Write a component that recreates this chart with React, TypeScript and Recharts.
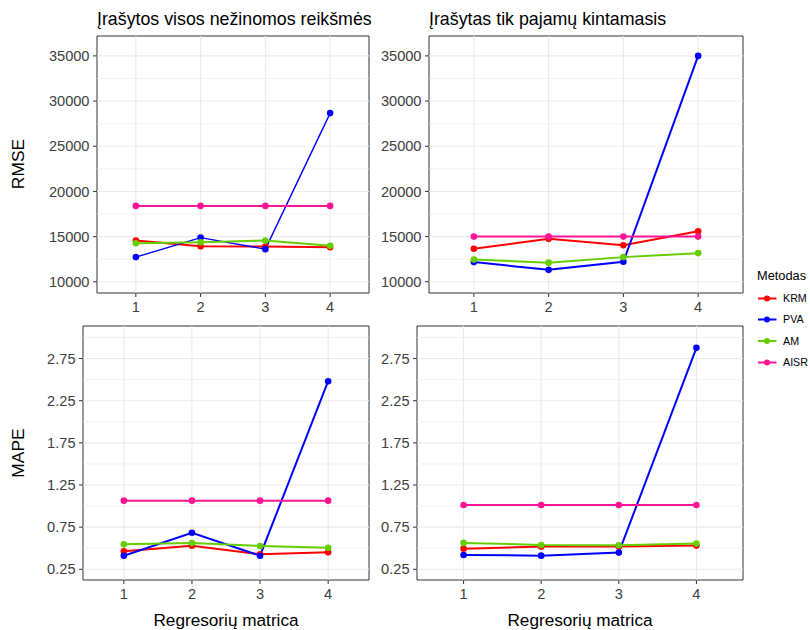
import React from 'react';
import { LineChart, Line, XAxis, YAxis, ReferenceLine, ReferenceArea } from 'recharts';

// ---------- data ----------
const categories = [1, 2, 3, 4];
const seriesNames = ['KRM', 'PVA', 'AM', 'AISR'];
const seriesColors = ['#FF0000', '#0000FF', '#66CD00', '#FF1493'];

// RMSE – "Įrašytos visos nežinomos reikšmės"
const rmseVisosKRM = [14560, 13940, 13900, 13830];
const rmseVisosPVA = [12730, 14890, 13610, 28670];
const rmseVisosAM = [14270, 14380, 14560, 13980];
const rmseVisosAISR = [18400, 18400, 18400, 18400];

// RMSE – "Įrašytas tik pajamų kintamasis"
const rmsePajKRM = [13650, 14750, 14050, 15600];
const rmsePajPVA = [12180, 11320, 12210, 35000];
const rmsePajAM = [12470, 12120, 12730, 13170];
const rmsePajAISR = [15000, 15000, 15000, 15000];

// MAPE – "Įrašytos visos nežinomos reikšmės"
const mapeVisosKRM = [0.463, 0.53, 0.428, 0.451];
const mapeVisosPVA = [0.411, 0.684, 0.411, 2.481];
const mapeVisosAM = [0.546, 0.562, 0.526, 0.506];
const mapeVisosAISR = [1.064, 1.064, 1.064, 1.064];

// MAPE – "Įrašytas tik pajamų kintamasis"
const mapePajKRM = [0.495, 0.519, 0.519, 0.531];
const mapePajPVA = [0.42, 0.412, 0.448, 2.877];
const mapePajAM = [0.563, 0.539, 0.536, 0.555];
const mapePajAISR = [1.012, 1.012, 1.012, 1.012];

const rmseTicks = [10000, 15000, 20000, 25000, 30000, 35000];
const rmseMinor = [12500, 17500, 22500, 27500, 32500];
const mapeTicks = [0.25, 0.75, 1.25, 1.75, 2.25, 2.75];
const mapeMinor = [0.5, 1.0, 1.5, 2.0, 2.5, 3.0];
const rmseDomain: [number, number] = [8760, 37200];
const mapeDomain: [number, number] = [0.123, 3.136];

const titleLeft = 'Įrašytos visos nežinomos reikšmės';
const titleRight = 'Įrašytas tik pajamų kintamasis';
const yTitleTop = 'RMSE';
const yTitleBottom = 'MAPE';
const xTitle = 'Regresorių matrica';
const legendTitle = 'Metodas';

const FONT = '"Liberation Sans", Arial, Helvetica, sans-serif';

type Box = { x: number; y: number; w: number; h: number };

function Panel(props: {
  box: Box;
  series: number[][];
  domain: [number, number];
  ticks: number[];
  minor: number[];
  fmt: (v: number) => string;
  pvaWidth?: number;
}) {
  const { box, series, domain, ticks, minor, fmt, pvaWidth } = props;
  const YW = 60, XH = 30, MT = 5, MR = 5;
  const rows = categories.map((c, i) => {
    const r: any = { x: c };
    seriesNames.forEach((n, k) => {
      r[n] = series[k][i];
    });
    return r;
  });
  return (
    <div style={{ position: 'absolute', left: box.x - YW, top: box.y - MT }}>
      <LineChart
        width={YW + box.w + MR}
        height={MT + box.h + XH}
        data={rows}
        margin={{ top: MT, right: MR, bottom: 0, left: 0 }}
      >
        <XAxis
          type="number"
          dataKey="x"
          domain={[0.4, 4.6]}
          ticks={categories}
          allowDataOverflow
          interval={0}
          height={XH}
          axisLine={false}
          tickLine={{ stroke: '#333333' }}
          tickSize={4}
          tickMargin={5}
          tick={{ fill: '#404040', fontSize: 14.6, fontFamily: FONT }}
        />
        <YAxis
          type="number"
          domain={domain}
          ticks={ticks}
          allowDataOverflow
          interval={0}
          width={YW}
          axisLine={false}
          tickLine={{ stroke: '#333333' }}
          tickSize={4}
          tickMargin={3.5}
          tickFormatter={fmt}
          tick={{ fill: '#404040', fontSize: 14.6, fontFamily: FONT }}
        />
        {minor.map((v) => (
          <ReferenceLine key={'m' + v} y={v} stroke="#EDEDED" strokeWidth={0.7} />
        ))}
        {ticks.map((v) => (
          <ReferenceLine key={'M' + v} y={v} stroke="#EBEBEB" strokeWidth={1.1} />
        ))}
        {categories.map((v) => (
          <ReferenceLine key={'x' + v} x={v} stroke="#EBEBEB" strokeWidth={1.1} />
        ))}
        <ReferenceArea
          x1={0.4}
          x2={4.6}
          y1={domain[0]}
          y2={domain[1]}
          fill="none"
          fillOpacity={0}
          stroke="#333333"
          strokeWidth={1}
          ifOverflow="visible"
        />
        {seriesNames.map((n, k) => (
          <Line
            key={n}
            dataKey={n}
            type="linear"
            stroke={seriesColors[k]}
            strokeWidth={n === 'PVA' && pvaWidth ? pvaWidth : 2}
            dot={{ r: 3.3, fill: seriesColors[k], stroke: seriesColors[k], strokeWidth: 0 }}
            activeDot={false}
            isAnimationActive={false}
          />
        ))}
      </LineChart>
    </div>
  );
}

const fmtRmse = (v: number) => String(v);
const fmtMape = (v: number) => v.toFixed(2);

export default function App() {
  const legendRows = [298.5, 319.5, 341, 362.5];
  return (
    <div
      style={{
        position: 'absolute',
        left: 0,
        top: 0,
        width: 810,
        height: 630,
        background: '#FFFFFF',
        overflow: 'hidden',
      }}
    >
      <Panel
        box={{ x: 97, y: 36, w: 272, h: 257 }}
        series={[rmseVisosKRM, rmseVisosPVA, rmseVisosAM, rmseVisosAISR]}
        domain={rmseDomain}
        ticks={rmseTicks}
        minor={rmseMinor}
        fmt={fmtRmse}
        pvaWidth={1.4}
      />
      <Panel
        box={{ x: 429, y: 36, w: 314, h: 257 }}
        series={[rmsePajKRM, rmsePajPVA, rmsePajAM, rmsePajAISR]}
        domain={rmseDomain}
        ticks={rmseTicks}
        minor={rmseMinor}
        fmt={fmtRmse}
      />
      <Panel
        box={{ x: 83, y: 326, w: 286, h: 254 }}
        series={[mapeVisosKRM, mapeVisosPVA, mapeVisosAM, mapeVisosAISR]}
        domain={mapeDomain}
        ticks={mapeTicks}
        minor={mapeMinor}
        fmt={fmtMape}
      />
      <Panel
        box={{ x: 417, y: 326, w: 326, h: 254 }}
        series={[mapePajKRM, mapePajPVA, mapePajAM, mapePajAISR]}
        domain={mapeDomain}
        ticks={mapeTicks}
        minor={mapeMinor}
        fmt={fmtMape}
      />
      <svg
        width={810}
        height={630}
        style={{ position: 'absolute', left: 0, top: 0, pointerEvents: 'none' }}
        fontFamily={FONT}
      >
        <text x={97} y={25} fontSize={17.8} fill="#000">{titleLeft}</text>
        <text x={429} y={25} fontSize={17.8} fill="#000">{titleRight}</text>
        <text x={23.5} y={164} fontSize={17.4} fill="#000" textAnchor="middle" transform="rotate(-90 23.5 164)">
          {yTitleTop}
        </text>
        <text x={24} y={453} fontSize={17.4} fill="#000" textAnchor="middle" transform="rotate(-90 24 453)">
          {yTitleBottom}
        </text>
        <text x={226} y={625.5} fontSize={17.2} fill="#000" textAnchor="middle">{xTitle}</text>
        <text x={580} y={625.5} fontSize={17.2} fill="#000" textAnchor="middle">{xTitle}</text>
        <text x={757} y={279.5} fontSize={12.8} fill="#000">{legendTitle}</text>
        {seriesNames.map((n, k) => (
          <g key={n}>
            <line x1={758} x2={776.5} y1={legendRows[k]} y2={legendRows[k]} stroke={seriesColors[k]} strokeWidth={2} />
            <circle cx={767} cy={legendRows[k]} r={3} fill={seriesColors[k]} />
            <text x={783} y={legendRows[k] + 3.8} fontSize={10.7} fill="#000">
              {n}
            </text>
          </g>
        ))}
      </svg>
    </div>
  );
}
